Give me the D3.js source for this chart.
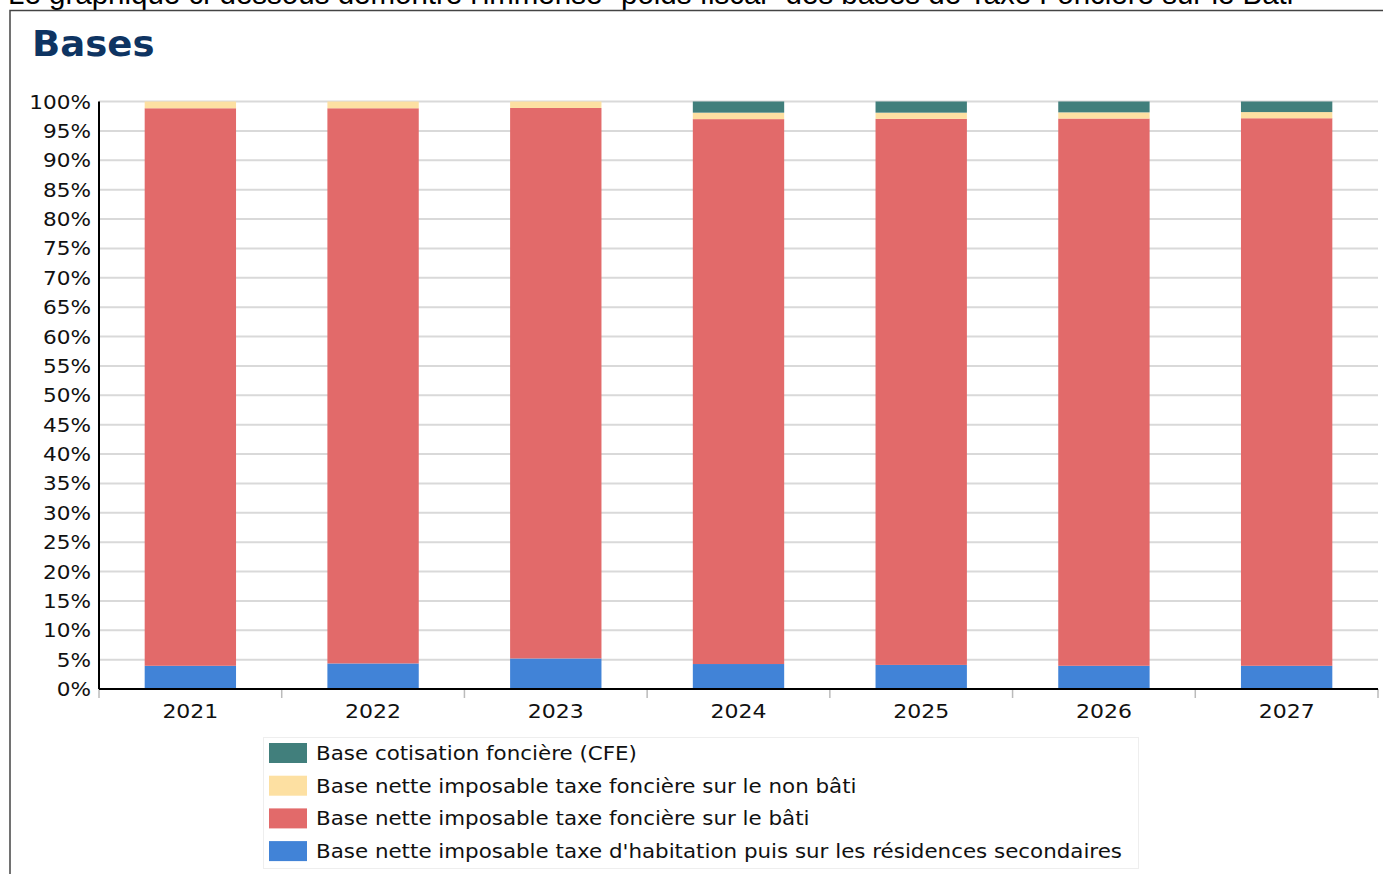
<!DOCTYPE html>
<html>
<head>
<meta charset="utf-8">
<script src="https://cdn.jsdelivr.net/npm/d3@7"></script>
<style>
  html, body { margin: 0; padding: 0; background: #fff; overflow: hidden; }
  svg { display: block; }
</style>
</head>
<body>
<svg id="chart" width="1383" height="874"></svg>
<script>
// Years shown on the x axis
const years = ["2021", "2022", "2023", "2024", "2025", "2026", "2027"];

// Share of each tax base, in percent of the total, per year
const habitation = [3.95, 4.35, 5.2, 4.25, 4.1, 3.95, 3.95];
const fonciereBati = [94.9, 94.5, 93.7, 92.75, 92.95, 93.15, 93.2];
const fonciereNonBati = [1.15, 1.15, 1.1, 1.1, 1.05, 1.05, 1.05];
const cotisationFonciere = [0, 0, 0, 1.9, 1.9, 1.85, 1.8];

// Series names, stacked from the bottom up
const seriesNames = [
  "Base nette imposable taxe d'habitation puis sur les résidences secondaires",
  "Base nette imposable taxe foncière sur le bâti",
  "Base nette imposable taxe foncière sur le non bâti",
  "Base cotisation foncière (CFE)"
];
const seriesValues = [habitation, fonciereBati, fonciereNonBati, cotisationFonciere];
const seriesColors = ["#4183d7", "#e26a6a", "#fde0a2", "#417f7c"];

// Y axis tick values (percent)
const yTicks = d3.range(0, 101, 5);

const svg = d3.select("#chart");
const font = "'DejaVu Sans', Verdana, sans-serif";
const stretch = 1.08; // chart lettering is set slightly wide

// Places a text at (x, y) with horizontal stretch around its anchor
function wideText(parent, x, y, sx) {
  return parent.append("g")
    .attr("transform", `translate(${x},${y}) scale(${sx},1)`)
    .append("text")
    .attr("x", 0).attr("y", 0);
}

// Heading text above the framed chart, partly clipped by the top of the page
svg.append("text")
  .attr("x", 8).attr("y", 4)
  .attr("font-family", "'Liberation Sans', Arial, sans-serif")
  .attr("font-size", 29.5)
  .attr("fill", "#000")
  .text("Le graphique ci-dessous démontre l'immense \"poids fiscal\" des bases de Taxe Foncière sur le Bâti");

// Frame around the chart
svg.append("rect")
  .attr("x", 10).attr("y", 10.5)
  .attr("width", 1400).attr("height", 900)
  .attr("fill", "none")
  .attr("stroke", "#444")
  .attr("stroke-width", 1.5);

// Title
wideText(svg, 32, 56, 1.06)
  .attr("font-family", font)
  .attr("font-weight", "bold")
  .attr("font-size", 35)
  .attr("fill", "#0e3462")
  .text("Bases");

const margin = { left: 99, right: 5 };
const plotW = 1383 - margin.left - margin.right;
const y = d3.scaleLinear().domain([0, 100]).range([689, 101.5]);
const x = d3.scaleBand().domain(years).range([margin.left, margin.left + plotW]).paddingInner(0.5).paddingOuter(0.25);

// Gridlines
svg.append("g")
  .selectAll("line")
  .data(yTicks.filter(d => d > 0))
  .join("line")
  .attr("x1", margin.left).attr("x2", margin.left + plotW)
  .attr("y1", d => y(d)).attr("y2", d => y(d))
  .attr("stroke", "#d9d9d9")
  .attr("stroke-width", 2);

// Stacked data
const rows = years.map((yr, i) => {
  const r = { year: yr };
  seriesNames.forEach((n, k) => { r[n] = seriesValues[k][i]; });
  return r;
});
const stacked = d3.stack().keys(seriesNames)(rows);

svg.append("g")
  .selectAll("g")
  .data(stacked)
  .join("g")
  .attr("fill", (d, i) => seriesColors[i])
  .selectAll("rect")
  .data(d => d.filter(p => p[1] - p[0] > 0))
  .join("rect")
  .attr("x", d => x(d.data.year))
  .attr("width", x.bandwidth())
  .attr("y", d => y(d[1]))
  .attr("height", d => y(d[0]) - y(d[1]));

// X axis with ticks at band boundaries
const xAxisG = svg.append("g").attr("transform", `translate(0,${y(0)})`);
const step = x.step();
const bounds = d3.range(0, years.length + 1).map(i => margin.left + i * step);
xAxisG.selectAll("line.tick")
  .data(bounds)
  .join("line")
  .attr("class", "tick")
  .attr("x1", d => d).attr("x2", d => d)
  .attr("y1", 0).attr("y2", 9)
  .attr("stroke", "#bbb")
  .attr("stroke-width", 1.5);
xAxisG.append("line")
  .attr("x1", margin.left).attr("x2", margin.left + plotW)
  .attr("y1", 0).attr("y2", 0)
  .attr("stroke", "#000").attr("stroke-width", 2);
years.forEach(yr => {
  wideText(xAxisG, x(yr) + x.bandwidth() / 2, 29, 1.1)
    .attr("text-anchor", "middle")
    .attr("font-family", font)
    .attr("font-size", 20)
    .attr("fill", "#111")
    .text(yr);
});

// Y axis
const yAxisG = svg.append("g");
yAxisG.append("line")
  .attr("x1", margin.left).attr("x2", margin.left)
  .attr("y1", y(100)).attr("y2", y(0))
  .attr("stroke", "#000").attr("stroke-width", 2);
yTicks.forEach(t => {
  wideText(yAxisG, 91, y(t) + 7, stretch)
    .attr("text-anchor", "end")
    .attr("font-family", font)
    .attr("font-size", 20)
    .attr("fill", "#111")
    .text(t + "%");
});

// Legend, top entry is the top of the stack
const legend = svg.append("g");
legend.append("rect")
  .attr("x", 263.5).attr("y", 737.5)
  .attr("width", 875).attr("height", 131)
  .attr("fill", "#fff")
  .attr("stroke", "#eee");
const legendOrder = d3.range(seriesNames.length).reverse();
legendOrder.forEach((k, i) => {
  const rowY = 743 + i * 32.7;
  legend.append("rect")
    .attr("x", 269).attr("y", rowY)
    .attr("width", 38).attr("height", 20)
    .attr("fill", seriesColors[k]);
  wideText(legend, 316, rowY + 17, 1.07)
    .attr("font-family", font)
    .attr("font-size", 20)
    .attr("fill", "#111")
    .text(seriesNames[k]);
});
</script>
</body>
</html>
